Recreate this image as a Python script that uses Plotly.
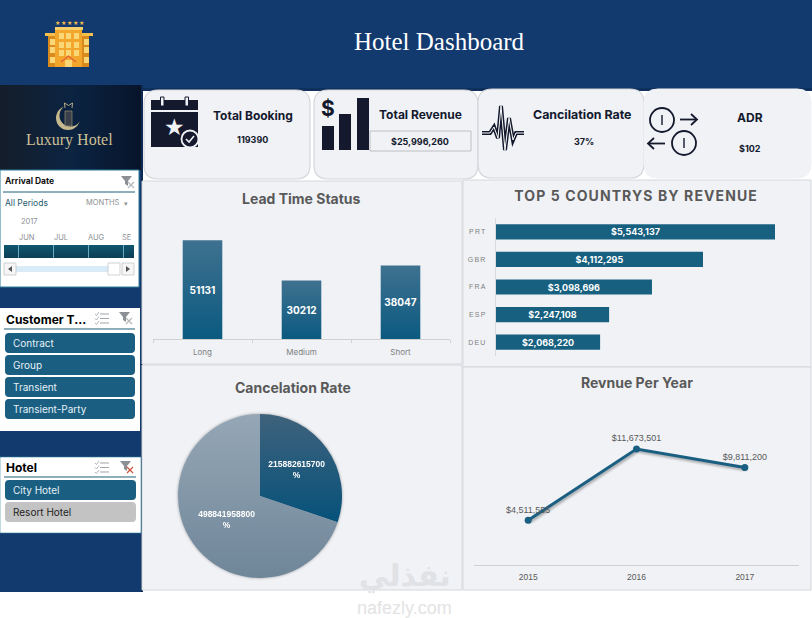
import plotly.graph_objects as go

# -----------------------------
# DATA
# -----------------------------
lead_status = ["Long", "Medium", "Short"]
lead_counts = [51131, 30212, 38047]

countries = ["PRT", "GBR", "FRA", "ESP", "DEU"]
country_revenue = [5543137, 4112295, 3098696, 2247108, 2068220]

cancel_labels = ["Canceled", "Not canceled"]
cancel_values = [215882615700, 498841958800]

years = ["2015", "2016", "2017"]
year_revenue = [4511555, 11673501, 9811200]

customer_types = ["Contract", "Group", "Transient", "Transient-Party"]
hotel_types = ["City Hotel", "Resort Hotel"]
timeline_months = ["JUN", "JUL", "AUG", "SE"]

W, H = 812, 618
NAVY = "#123a6e"
INK = "#14192e"
TEAL = "#1a5f82"
PANEL = "#f0f2f6"
EDGE = "#d3d6da"
GREY_TXT = "#595959"
TXT_FONT = "Inter"

shapes = []
notes = []


def fx(x):
    return x / W


def fy(y):
    return 1 - y / H


def rect(x0, y0, x1, y1, fill, line=None, lw=1):
    shapes.append(dict(type="rect", xref="paper", yref="paper", layer="below",
                       x0=fx(x0), x1=fx(x1), y0=fy(y0), y1=fy(y1), fillcolor=fill,
                       line=dict(color=line or fill, width=lw if line else 0)))


def circle(cx, cy, r, fill, line=None, lw=1):
    shapes.append(dict(type="circle", xref="paper", yref="paper", layer="below",
                       x0=fx(cx - r), x1=fx(cx + r), y0=fy(cy - r), y1=fy(cy + r), fillcolor=fill,
                       line=dict(color=line or fill, width=lw if line else 0)))


def poly(points, line=None, lw=1, fill=None, close=False):
    d = "M " + " L ".join(f"{fx(x):.5f},{fy(y):.5f}" for x, y in points)
    if close:
        d += " Z"
    shapes.append(dict(type="path", path=d, xref="paper", yref="paper", layer="below",
                       fillcolor=fill or "rgba(0,0,0,0)",
                       line=dict(color=line or "rgba(0,0,0,0)", width=lw if line else 0)))


def round_rect(x0, y0, x1, y1, r, fill, line=None, lw=1):
    p = lambda x, y: f"{fx(x):.5f},{fy(y):.5f}"
    d = (f"M {p(x0 + r, y0)} L {p(x1 - r, y0)} Q {p(x1, y0)} {p(x1, y0 + r)} "
         f"L {p(x1, y1 - r)} Q {p(x1, y1)} {p(x1 - r, y1)} "
         f"L {p(x0 + r, y1)} Q {p(x0, y1)} {p(x0, y1 - r)} "
         f"L {p(x0, y0 + r)} Q {p(x0, y0)} {p(x0 + r, y0)} Z")
    shapes.append(dict(type="path", path=d, xref="paper", yref="paper", layer="below",
                       fillcolor=fill, line=dict(color=line or fill, width=lw if line else 0)))


def label(x, y, text, size, color="#000000", bold=False, font=TXT_FONT, anchor="center"):
    notes.append(dict(x=fx(x), y=fy(y), xref="paper", yref="paper", showarrow=False,
                      text=f"<b>{text}</b>" if bold else text, xanchor=anchor, yanchor="middle",
                      font=dict(size=size, color=color, family=font)))


def filter_icon(x, y, red=False):
    poly([(x, y), (x + 11, y), (x + 7, y + 5), (x + 7, y + 10), (x + 4, y + 8), (x + 4, y + 5)],
         fill="#8c8f94", close=True)
    mark = "#c9563c" if red else "#b5b8bc"
    poly([(x + 7, y + 6), (x + 13, y + 12)], line=mark, lw=1.2)
    poly([(x + 13, y + 6), (x + 7, y + 12)], line=mark, lw=1.2)


def check_icon(x, y):
    for i in range(3):
        poly([(x + 5, y + 2 + i * 4.5), (x + 14, y + 2 + i * 4.5)], line="#a0a3a8", lw=1)
        poly([(x, y + 2 + i * 4.5), (x + 1.5, y + 3.5 + i * 4.5), (x + 4, y + i * 4.5)], line="#a0a3a8", lw=0.8)


# -----------------------------
# BACKGROUND BLOCKS
# -----------------------------
rect(0, 0, W, 90, NAVY)
rect(0, 88, W, 91, "#0f2f5c")
rect(0, 85, 142, 592, NAVY)
rect(0, 85, 142, 170, "#0a1e38")
rect(141, 85, 143, 592, "#0d2b52")

# top cards
round_rect(144, 90, 310, 179, 14, PANEL, EDGE, 1.2)
round_rect(314, 90, 478, 179, 14, PANEL, EDGE, 1.2)
round_rect(478, 89, 644, 178, 14, PANEL, EDGE, 1.2)
round_rect(644, 89, 811, 178, 14, PANEL, PANEL, 1)

# chart panels
rect(142, 181, 462, 364, PANEL, EDGE)
rect(463, 180, 811, 367, PANEL, EDGE)
rect(142, 365, 462, 590, PANEL, EDGE)
rect(463, 367, 811, 590, PANEL, EDGE)

# -----------------------------
# HEADER
# -----------------------------
label(439, 41, "Hotel Dashboard", 25, "#ffffff", font="Liberation Serif")

rect(48, 36, 89, 67, "#d98a1c")
rect(45, 33, 93, 36, "#f4bf4a")
rect(55, 29, 82, 67, "#f2a62c")
rect(55, 27, 83, 30, "#f6cf6a")
for wx in (50, 84):
    for wy in (39, 47, 57):
        rect(wx, wy, wx + 5, wy + 6, "#f9d776")
for wx in (59, 66, 74):
    for wy in (33, 42, 50):
        rect(wx, wy, wx + 5, wy + 6, "#f9d776")
poly([(61, 62), (68.5, 56), (76, 62)], line="#e2603a", lw=1.2)
rect(65, 60, 72, 67, "#f9d776")
for sx in (57, 63, 69, 75, 81):
    label(sx, 22, "★", 6, "#f4bf4a", font="DejaVu Sans")

# logo
circle(68, 118, 12, "#c6b88e")
circle(70.5, 115.5, 11, "#0b2140")
rect(65, 111, 72, 126, "#3a3f4c", "#a89a74", 0.6)
poly([(65, 108), (64.5, 103), (68.5, 105.5), (72.5, 103), (72, 108)], line="#c6b88e", lw=0.9)
label(69, 140, "Luxury Hotel", 16, "#cdbf95", font="Liberation Serif")

# -----------------------------
# KPI CARDS
# -----------------------------
rect(151, 100, 198, 110, INK)
rect(151, 112, 198, 147, INK)
rect(160.5, 97, 164, 106, PANEL, INK, 1)
rect(185, 97, 188.5, 106, PANEL, INK, 1)
label(174, 127, "★", 23, "#f0f2f6", font="DejaVu Sans")
circle(190, 139, 8.5, INK, "#f0f2f6", 1.8)
poly([(186, 139), (189, 142), (194, 136)], line="#f0f2f6", lw=1.6)
label(253, 115, "Total Booking", 12, INK, True)
label(253, 140, "119390", 9, INK, True)

rect(322, 126, 334, 150, INK)
rect(339, 114, 351, 150, INK)
rect(357, 98, 369, 150, INK)
label(328, 109, "$", 21, INK, True)
rect(370, 131, 471, 151, PANEL, "#b0b3b8", 0.8)
label(420, 114, "Total Revenue", 12, INK, True)
label(420, 141, "$25,996,260", 9, INK, True)

pulse = [(482, 133), (490, 133), (494, 127), (498, 138), (501, 106), (505, 150), (509, 118),
         (513, 140), (516, 133), (524, 133)]
poly(pulse, line=INK, lw=4)
poly(pulse, line="#ffffff", lw=1)
label(582, 114, "Cancilation Rate", 12.4, INK, True)
label(584, 141, "37%", 9, INK, True)

circle(662, 120, 12, "rgba(0,0,0,0)", INK, 1.8)
rect(661.3, 115, 662.7, 125, INK)
poly([(680, 119.5), (696, 119.5)], line=INK, lw=1.8)
poly([(691, 114), (697, 119.5), (691, 125)], line=INK, lw=1.8)
circle(684, 143, 12, "rgba(0,0,0,0)", INK, 1.8)
rect(683.3, 138, 684.7, 148, INK)
poly([(649, 143.5), (665, 143.5)], line=INK, lw=1.8)
poly([(654, 138), (648, 143.5), (654, 149)], line=INK, lw=1.8)
label(750, 117, "ADR", 12, INK, True)
label(750, 148, "$102", 9, INK, True)

# -----------------------------
# SLICERS
# -----------------------------
# arrival date
rect(0, 170, 139, 287, "#ffffff", "#2f7f9c", 1)
label(2.5, 181, "Arrival Date", 8.5, "#111111", True, anchor="left")
filter_icon(121, 176)
poly([(3, 192), (135, 192)], line="#1d5f78", lw=1)
label(2.5, 203, "All Periods", 8.5, "#1f5a70", anchor="left")
label(83.5, 203, "MONTHS", 7.5, "#8c8f94", anchor="left")
label(126, 204, "▾", 7, "#8c8f94", font="DejaVu Sans")
label(18.5, 221, "2017", 7.5, "#8c8f94", anchor="left")
for mx, month in zip((27, 61, 96, 127), timeline_months):
    label(mx, 237, month, 7.5, "#8c8f94")
rect(4, 245, 134, 258, "#0f566f")
for sx in (18, 53, 88, 123):
    rect(sx, 245, sx + 0.8, 258, "#7fc2dc")
rect(16, 266, 108, 272, "#d8ebf6")
rect(4, 263, 16, 275, "#f6f6f6", "#c4c6c8", 0.8)
rect(108, 263, 120, 275, "#ffffff", "#c4c6c8", 0.8)
rect(122, 263, 134, 275, "#f6f6f6", "#c4c6c8", 0.8)
poly([(12, 266), (8, 269), (12, 272)], fill="#555555", close=True)
poly([(126, 266), (130, 269), (126, 272)], fill="#555555", close=True)

# customer type
rect(0, 308, 140, 431, "#ffffff")
label(3.5, 319, "Customer T...", 12, "#000000", True, anchor="left")
check_icon(95, 312)
filter_icon(119, 312)
poly([(4, 329), (135, 329)], line="#1d5f78", lw=1)
for i, name in enumerate(customer_types):
    top = 333 + i * 22
    round_rect(5, top, 135, top + 20, 4, TEAL)
    label(10.5, top + 10, name, 10, "#e6f1f6", anchor="left")

# hotel
rect(0, 457, 141, 533, "#ffffff", "#2f7f9c", 0.6)
label(3.5, 467, "Hotel", 12, "#000000", True, anchor="left")
check_icon(95, 461)
filter_icon(120, 461, red=True)
poly([(4, 477), (136, 477)], line="#1d5f78", lw=1)
for i, name in enumerate(hotel_types):
    top = 480 + i * 22
    on = i == 0
    round_rect(5, top, 136, top + 20, 4, TEAL if on else "#c3c3c3")
    label(10.5, top + 10, name, 10, "#e6f1f6" if on else "#222222", anchor="left")

# -----------------------------
# CHART TITLES
# -----------------------------
label(301, 198, "Lead Time Status", 14, GREY_TXT, True)
label(636, 195, "TOP 5 COUNTRYS BY REVENUE", 14, GREY_TXT, True)
label(293, 387, "Cancelation Rate", 14, GREY_TXT, True)
label(637, 382, "Revnue Per Year", 14, GREY_TXT, True)

# -----------------------------
# TRACES
# -----------------------------
fig = go.Figure()

fig.add_trace(go.Bar(
    x=lead_status, y=lead_counts, text=lead_counts, textposition="inside", insidetextanchor="middle",
    textangle=0, marker_color="#1b5f84", marker_line_width=0, width=0.4, constraintext="none",
    textfont=dict(size=10, color="#ffffff", family=TXT_FONT, weight="bold"),
    xaxis="x", yaxis="y", showlegend=False,
))

fig.add_trace(go.Bar(
    x=country_revenue, y=countries, orientation="h",
    text=[f"${v:,}" for v in country_revenue], textposition="inside", insidetextanchor="middle",
    textangle=0, marker_color="#186080", marker_line_width=0, constraintext="none",
    textfont=dict(size=9, color="#ffffff", family=TXT_FONT, weight="bold"),
    xaxis="x2", yaxis="y2", showlegend=False,
))

fig.add_trace(go.Scatter(
    x=years, y=year_revenue, mode="lines+markers+text",
    text=[f"${v:,}" for v in year_revenue], textposition="top center",
    line=dict(color="#1a5f82", width=3), marker=dict(color="#1a5f82", size=7),
    textfont=dict(size=9, color=GREY_TXT, family="Liberation Sans"),
    cliponaxis=False, xaxis="x3", yaxis="y3", showlegend=False,
))

fig.add_trace(go.Pie(
    labels=cancel_labels, values=cancel_values, sort=False, direction="clockwise", rotation=0,
    text=[f"{v}<br>%" for v in cancel_values], textinfo="text", textposition="inside",
    insidetextorientation="horizontal",
    textfont=dict(size=8.5, color="#ffffff", family="Liberation Sans", weight="bold"),
    marker=dict(colors=["#215e80", "#8298aa"], line=dict(width=0)),
    domain=dict(x=[fx(178), fx(342)], y=[fy(578), fy(414)]),
    showlegend=False,
))

# watermark
label(405, 576, "نفذلي", 30, "#e0e2e6", True, font="DejaVu Sans")
label(404, 608, "nafezly.com", 18, "#e3e3e3", font="Liberation Sans")

# -----------------------------
# LAYOUT
# -----------------------------
axis_tick = dict(size=8, color="#7f7f7f", family=TXT_FONT)

fig.update_layout(
    width=W, height=H, margin=dict(l=0, r=0, t=0, b=0, pad=0), autosize=False,
    paper_bgcolor="#ffffff", plot_bgcolor="rgba(0,0,0,0)",
    shapes=shapes, annotations=notes,
    xaxis=dict(domain=[fx(153), fx(450)], anchor="y", type="category", showgrid=False, showline=True,
               linecolor="#d0d0d0", ticks="outside", tickson="boundaries", ticklen=3, tickcolor="#d0d0d0",
               ticklabelstandoff=5, tickfont=axis_tick),
    yaxis=dict(domain=[fy(339), fy(223)], anchor="x", range=[0, 60000], visible=False),
    xaxis2=dict(domain=[fx(496), fx(798)], anchor="y2", range=[0, 6000000], visible=False),
    yaxis2=dict(domain=[fy(356), fy(218)], anchor="x2", type="category", autorange="reversed",
                showgrid=False, showline=True, linecolor="#d9d9d9", ticks="", ticklabelstandoff=7,
                tickfont=dict(size=7, color="#7f7f7f", family="Liberation Sans")),
    xaxis3=dict(domain=[fx(474), fx(799)], anchor="y3", type="category", range=[-0.5, 2.5],
                showgrid=False, showline=True, linecolor="#d0d0d0", ticks="", ticklabelstandoff=4,
                tickfont=dict(size=8.5, color=GREY_TXT, family="Liberation Sans")),
    yaxis3=dict(domain=[fy(565), fy(426)], anchor="x3", range=[0, 14000000], visible=False),
    bargap=0.45, hovermode=False,
)

# bars and pie have a vertical shading in the source, plotly has no fill gradient for these
post = """
document.body.style.margin = '0';
document.body.style.overflow = 'hidden';
var gd = document.getElementById('{plot_id}');
var svg = gd.querySelector('.main-svg');
var NS = 'http://www.w3.org/2000/svg';
var defs = document.createElementNS(NS, 'defs');
svg.insertBefore(defs, svg.firstChild);
function grad(id, stops, horizontal) {
  var g = document.createElementNS(NS, 'linearGradient');
  g.setAttribute('id', id);
  g.setAttribute('x1', '0'); g.setAttribute('y1', '0');
  g.setAttribute('x2', horizontal ? '1' : '0'); g.setAttribute('y2', horizontal ? '0' : '1');
  stops.forEach(function (c, i) {
    var st = document.createElementNS(NS, 'stop');
    st.setAttribute('offset', i / (stops.length - 1)); st.setAttribute('stop-color', c);
    g.appendChild(st);
  });
  defs.appendChild(g);
}
grad('gBar', ['#3f7190', '#0b5a80']);
grad('gPieA', ['#3f627c', '#06527a']);
grad('gPieB', ['#95a7b6', '#6f8699']);
grad('gLine', ['#0f566f', '#0c3f55']);
grad('gLogo', ['#151d2a', '#0b2442', '#07142a'], true);
var map = {
  'rgb(27, 95, 132)': 'gBar',
  'rgb(33, 94, 128)': 'gPieA',
  'rgb(130, 152, 170)': 'gPieB',
  'rgb(15, 86, 111)': 'gLine',
  'rgb(10, 30, 56)': 'gLogo'
};
gd.querySelectorAll('path').forEach(function (p) {
  var id = map[p.style.fill];
  if (id) { p.style.fill = 'url(#' + id + ')'; }
});
gd.querySelectorAll('.scatterlayer .lines path').forEach(function (p) {
  p.style.filter = 'drop-shadow(1px 2px 1px rgba(0,0,0,0.3))';
});
gd.querySelectorAll('.pielayer').forEach(function (p) {
  p.style.filter = 'drop-shadow(0 0 1.5px rgba(0,0,0,0.35))';
});
// the wide tracking of the country chart
gd.querySelectorAll('.annotation-text').forEach(function (t) {
  if (t.textContent.indexOf('TOP 5') === 0) { t.style.letterSpacing = '1.1px'; }
});
gd.querySelectorAll('.y2tick text, .yaxislayer-above .ytick text').forEach(function (t) {
  t.style.letterSpacing = '1.2px';
});
"""

fig.write_html("out.html", post_script=post, config=dict(displayModeBar=False))
